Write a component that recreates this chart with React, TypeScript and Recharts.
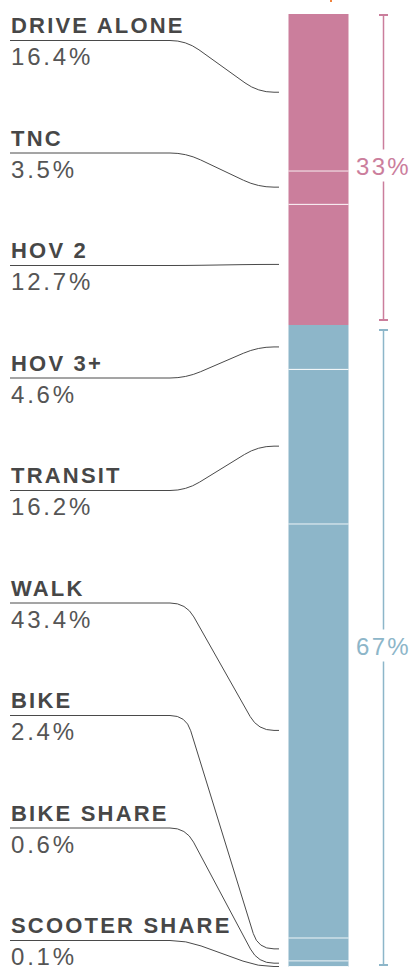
import React from 'react';
import { BarChart, Bar, XAxis, YAxis } from 'recharts';

// commute mode share, top of the bar first
const modes = ['DRIVE ALONE', 'TNC', 'HOV 2', 'HOV 3+', 'TRANSIT', 'WALK', 'BIKE', 'BIKE SHARE', 'SCOOTER SHARE'];
const shares = [16.4, 3.5, 12.7, 4.6, 16.2, 43.4, 2.4, 0.6, 0.1];
const modeGroup = [0, 0, 0, 1, 1, 1, 1, 1, 1];

// bracket groups on the right
const groupLabels = ['33%', '67%'];
const groupColors = ['#cb7e9c', '#8db6c9'];

const total = shares.reduce((a, b) => a + b, 0);

const row: Record<string, number | string> = { name: 'share' };
modes.forEach((_, i) => {
  row[`m${i}`] = shares[i];
});
groupLabels.forEach((_, g) => {
  row[`g${g}`] = shares.filter((_, i) => modeGroup[i] === g).reduce((a, b) => a + b, 0);
});
const data = [row];

// label column
const LABEL_X = 10;
const FIRST_RULE_Y = 40;
const RULE_STEP = 112.5;
const ELBOW_X = 186;
const KNEE_X = 258;
const END_X = 279;
const RADIUS = 16;
const FONT = '"Liberation Sans", Arial, sans-serif';

const connectorPath = (y1: number, y2: number) => {
  if (Math.abs(y2 - y1) < 1) return `M${LABEL_X},${y1}H${END_X}`;
  const dx = KNEE_X - ELBOW_X;
  const dy = y2 - y1;
  const len = Math.hypot(dx, dy);
  const ux = dx / len;
  const uy = dy / len;
  const r = Math.min(RADIUS, len / 2);
  return (
    `M${LABEL_X},${y1}H${ELBOW_X - r}` +
    `Q${ELBOW_X},${y1} ${ELBOW_X + r * ux},${y1 + r * uy}` +
    `L${KNEE_X - r * ux},${y2 - r * uy}` +
    `Q${KNEE_X},${y2} ${KNEE_X + r},${y2}H${END_X}`
  );
};

const modeShape = (i: number) => (props: any) => {
  const { x, y, width, height } = props;
  const ruleY = FIRST_RULE_Y + RULE_STEP * i + 0.5;
  const midY = y + height / 2;
  const split = i > 0 && modeGroup[i - 1] === modeGroup[i];
  return (
    <g>
      <rect x={x} y={y} width={width} height={height} fill={groupColors[modeGroup[i]]} />
      {split && <rect x={x} y={y} width={width} height={1} fill="#ffffff" />}
      <path d={connectorPath(ruleY, midY)} fill="none" stroke="#4a4a4a" strokeWidth={1} />
      <text
        x={LABEL_X + 1}
        y={ruleY - 7.5}
        fontFamily={FONT}
        fontSize={22}
        fontWeight={700}
        letterSpacing={2.2}
        fill="#474747"
      >
        {modes[i]}
      </text>
      <text
        x={LABEL_X + 1}
        y={ruleY + 24.5}
        fontFamily={FONT}
        fontSize={24}
        fontWeight={300}
        letterSpacing={2.8}
        fill="#555555"
      >
        {shares[i].toFixed(1)}%
      </text>
    </g>
  );
};

const groupShape = (g: number) => (props: any) => {
  const { x, y, width, height } = props;
  const cx = x + width / 2;
  const color = groupColors[g];
  const top = y + (g === 0 ? 0 : 4);
  const bottom = y + height - (g === groupLabels.length - 1 ? 1 : 4);
  const mid = (top + bottom) / 2;
  return (
    <g>
      <line x1={cx} x2={cx} y1={top} y2={mid - 18} stroke={color} strokeWidth={1.5} />
      <line x1={cx} x2={cx} y1={mid + 14} y2={bottom} stroke={color} strokeWidth={1.5} />
      <line x1={cx - 4.5} x2={cx + 4.5} y1={top + 1} y2={top + 1} stroke={color} strokeWidth={2} />
      <line x1={cx - 4.5} x2={cx + 4.5} y1={bottom - 1} y2={bottom - 1} stroke={color} strokeWidth={2} />
      <text
        x={cx}
        y={mid + 8}
        textAnchor="middle"
        fontFamily={FONT}
        fontSize={24}
        letterSpacing={2.3}
        fill={color}
      >
        {groupLabels[g]}
      </text>
    </g>
  );
};

const modeOrder = modes.map((_, i) => i).reverse();
const groupOrder = groupLabels.map((_, g) => g).reverse();

export default function App() {
  return (
    <div style={{ position: 'absolute', left: 0, top: 0, width: 413, height: 967, background: '#fff' }}>
      <div style={{ position: 'absolute', left: 330, top: 0, width: 2, height: 2, background: '#f0843e' }} />
      <BarChart
        width={413}
        height={967}
        data={data}
        margin={{ top: 14, right: 24.5, bottom: 0, left: 287.5 }}
        barCategoryGap={0}
        barGap={30}
      >
        <XAxis dataKey="name" hide />
        <YAxis hide domain={[0, total]} />
        {modeOrder.map((i) => (
          <Bar
            key={`m${i}`}
            dataKey={`m${i}`}
            stackId="modes"
            barSize={60}
            isAnimationActive={false}
            shape={modeShape(i)}
          />
        ))}
        {groupOrder.map((g) => (
          <Bar
            key={`g${g}`}
            dataKey={`g${g}`}
            stackId="groups"
            barSize={10}
            isAnimationActive={false}
            shape={groupShape(g)}
          />
        ))}
      </BarChart>
    </div>
  );
}
